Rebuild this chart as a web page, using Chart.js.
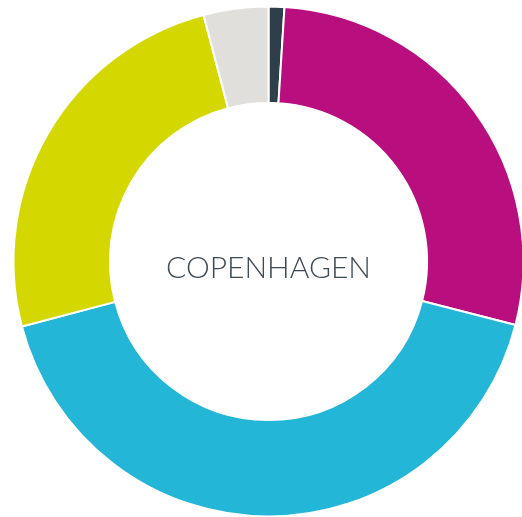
<!DOCTYPE html>
<html>
<head>
<meta charset="utf-8">
<script src="https://cdn.jsdelivr.net/npm/chart.js@4"></script>
<style>
  html, body { margin: 0; padding: 0; background: #fff; overflow: hidden; }
  #wrap { position: absolute; left: 0; top: 0; width: 537px; height: 523px; }
  #label {
    position: absolute; left: 0; top: 0; width: 537px; height: 523px;
    display: flex; align-items: center; justify-content: center;
    font-family: Lato, sans-serif; font-weight: 300; font-size: 30px;
    color: #3d4b55; padding-top: 8px; box-sizing: border-box;
  }
</style>
</head>
<body>
<div id="wrap">
  <canvas id="chart" width="537" height="523"></canvas>
  <div id="label">COPENHAGEN</div>
</div>
<script>
// shares, clockwise from the top
const categories = ["A", "B", "C", "D", "E"];
const values = [1.0, 28.0, 41.9, 25.0, 4.1];
const colors = ["#2e3f4a", "#b90e7e", "#23b6d6", "#d4d800", "#e0dfdb"];

const ctx = document.getElementById("chart").getContext("2d");
new Chart(ctx, {
  type: "doughnut",
  data: {
    labels: categories,
    datasets: [{
      data: values,
      backgroundColor: colors,
      borderColor: "#ffffff",
      borderWidth: 2
    }]
  },
  options: {
    responsive: false,
    animation: false,
    radius: 255,
    cutout: 162,
    layout: { padding: 0 },
    plugins: {
      legend: { display: false },
      tooltip: { enabled: false }
    }
  }
});
</script>
</body>
</html>
